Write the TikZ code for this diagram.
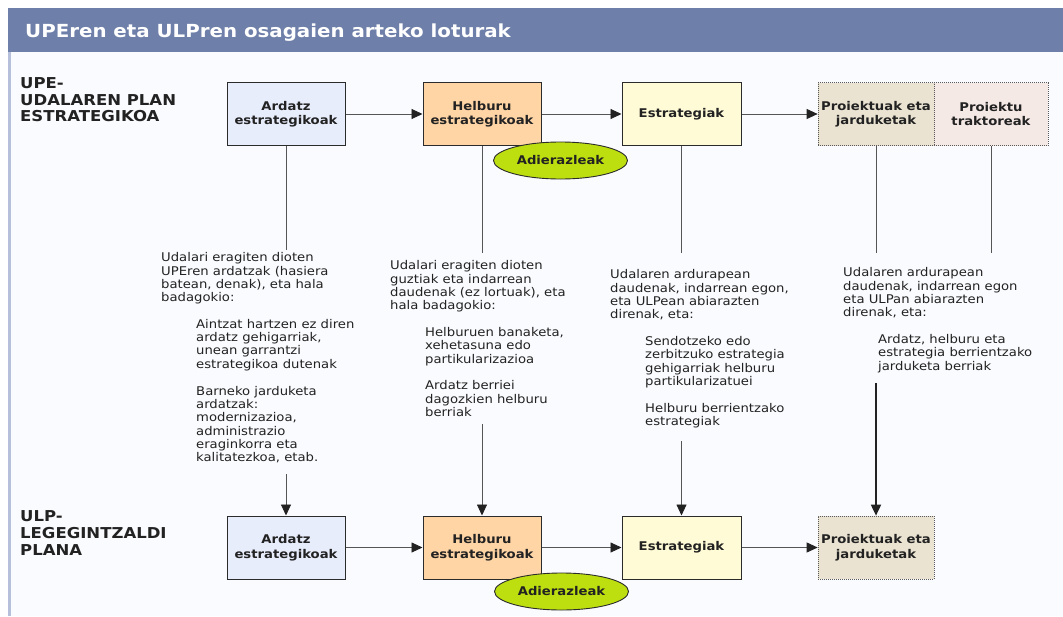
\documentclass[tikz,border=0pt]{standalone}
\usepackage{fontspec}
\setmainfont{DejaVu Sans}[FakeStretch=1.1]
\usetikzlibrary{arrows.meta,shapes.geometric}

% palette
\definecolor{hdr}{HTML}{6E7FA9}
\definecolor{pagebg}{HTML}{FAFBFE}
\definecolor{rim}{HTML}{B6C0DA}
\definecolor{ardatzfill}{HTML}{E8EDFC}
\definecolor{helburufill}{HTML}{FFD5A6}
\definecolor{estrfill}{HTML}{FFFBD6}
\definecolor{proifill}{HTML}{EAE3D2}
\definecolor{traktfill}{HTML}{F5E9E6}
\definecolor{adierfill}{HTML}{BDDF0F}
\definecolor{boxline}{HTML}{2B2B2B}
\definecolor{wirecol}{HTML}{555555}
\definecolor{ink}{HTML}{222222}

% type sizes
\newcommand\ttlfont{\fontsize{18}{20}\selectfont\bfseries}
\newcommand\plfont{\fontsize{15}{16.6}\selectfont\bfseries}
\newcommand\bxfont{\fontsize{12}{14.5}\selectfont\bfseries}
\newcommand\ntfont{\fontsize{12}{13.3}\selectfont}

\tikzset{
  stage/.style={draw=boxline, line width=1pt, minimum width=118pt, minimum height=63pt,
    inner sep=0pt, align=center, font=\bxfont, text=ink},
  dotstage/.style={stage, draw=black!65, densely dotted, line width=0.7pt, minimum width=116pt},
  oval/.style={ellipse, draw=boxline, line width=0.9pt, fill=adierfill, minimum width=134pt,
    minimum height=37pt, inner sep=0pt, font=\bxfont, text=ink},
  note/.style={anchor=north west, align=left, inner sep=0pt, font=\ntfont, text=ink},
  plan/.style={anchor=north west, align=left, inner sep=0pt, font=\plfont, text=ink},
  wire/.style={draw=wirecol, line width=0.9pt},
  flow/.style={wire, -{Triangle[length=11pt,width=10pt,color=ink]}},
  heavyflow/.style={draw=ink, line width=1.8pt, -{Triangle[length=11pt,width=10pt,color=ink]}},
}

\begin{document}
\begin{tikzpicture}[x=1pt, y=-1pt]
\useasboundingbox (0,0) rectangle (1063,616);

% frame
\fill[pagebg] (8,52) rectangle (1063,616);
\fill[rim] (8,52) rectangle (10.5,616);
\fill[hdr] (8,8) rectangle (1063,52);
\node[anchor=base west, inner sep=0pt, font=\ttlfont, text=white] (title) at (25,37.5)
  {UPEren eta ULPren osagaien arteko loturak};

% row labels
\node[plan] (uplabel) at (20,77.3) {UPE-\\UDALAREN PLAN\\ESTRATEGIKOA};
\node[plan] (lolabel) at (20,510.7) {ULP-\\LEGEGINTZALDI\\PLANA};

% upper row
\node[stage, fill=ardatzfill] (ua) at (286,114) {Ardatz\\estrategikoak};
\node[stage, fill=helburufill] (uh) at (482,114) {Helburu\\estrategikoak};
\node[stage, fill=estrfill, minimum width=119pt] (ue) at (681.5,114) {Estrategiak};
\node[dotstage, fill=proifill] (upr) at (876,114) {Proiektuak eta\\jarduketak};
\node[dotstage, fill=traktfill, minimum width=114pt] (utr) at (991,114) {Proiektu\\traktoreak};
\node[oval] (ui) at (560.5,160.5) {Adierazleak};

% lower row
\node[stage, fill=ardatzfill] (la) at (286,547.5) {Ardatz\\estrategikoak};
\node[stage, fill=helburufill] (lh) at (482,547.5) {Helburu\\estrategikoak};
\node[stage, fill=estrfill, minimum width=119pt] (le) at (681.5,547.5) {Estrategiak};
\node[dotstage, fill=proifill] (lpr) at (876,547.5) {Proiektuak eta\\jarduketak};
\node[oval] (li) at (561.5,591.5) {Adierazleak};

% horizontal flow
\draw[flow] (ua) -- (uh);
\draw[flow] (uh) -- (ue);
\draw[flow] (ue) -- (upr);
\draw[flow] (la) -- (lh);
\draw[flow] (lh) -- (le);
\draw[flow] (le) -- (lpr);

% stems from the upper row
\coordinate (uaTail) at (286,250);
\coordinate (uhTail) at (482,253);
\coordinate (ueTail) at (681.5,253);
\coordinate (uprTail) at (876,253);
\coordinate (utrTail) at (991,253);
\draw[wire] (ua) -- (uaTail);
\draw[wire] (uh) -- (uhTail);
\draw[wire] (ue) -- (ueTail);
\draw[wire] (upr) -- (uprTail);
\draw[wire] (utr) -- (utrTail);

% explanatory notes
\node[note] (aP) at (161,252.5) {Udalari eragiten dioten\\UPEren ardatzak (hasiera\\batean, denak), eta hala\\badagokio:};
\node[note] (aI) at (196,319) {Aintzat hartzen ez diren\\ardatz gehigarriak,\\unean garrantzi\\estrategikoa dutenak};
\node[note] (aJ) at (196,385.8) {Barneko jarduketa\\ardatzak:\\modernizazioa,\\administrazio\\eraginkorra eta\\kalitatezkoa, etab.};

\node[note] (bP) at (390,260.5) {Udalari eragiten dioten\\guztiak eta indarrean\\daudenak (ez lortuak), eta\\hala badagokio:};
\node[note] (bI) at (425,327.2) {Helburuen banaketa,\\xehetasuna edo\\partikularizazioa};
\node[note] (bJ) at (425,380.5) {Ardatz berriei\\dagozkien helburu\\berriak};

\node[note] (cP) at (610,269.5) {Udalaren ardurapean\\daudenak, indarrean egon,\\eta ULPean abiarazten\\direnak, eta:};
\node[note] (cI) at (645,336.2) {Sendotzeko edo\\zerbitzuko estrategia\\gehigarriak helburu\\partikularizatuei};
\node[note] (cJ) at (645,402.8) {Helburu berrientzako\\estrategiak};

\node[note] (dP) at (843,267.5) {Udalaren ardurapean\\daudenak, indarrean egon\\eta ULPan abiarazten\\direnak, eta:};
\node[note] (dI) at (878,334.2) {Ardatz, helburu eta\\estrategia berrientzako\\jarduketa berriak};

% stems into the lower row
\coordinate (laHead) at (286,474);
\coordinate (lhHead) at (482,424);
\coordinate (leHead) at (681.5,441);
\coordinate (lprHead) at (876,383);
\draw[flow] (laHead) -- (la);
\draw[flow] (lhHead) -- (lh);
\draw[flow] (leHead) -- (le);
\draw[heavyflow] (lprHead) -- (lpr);
\end{tikzpicture}
\end{document}
